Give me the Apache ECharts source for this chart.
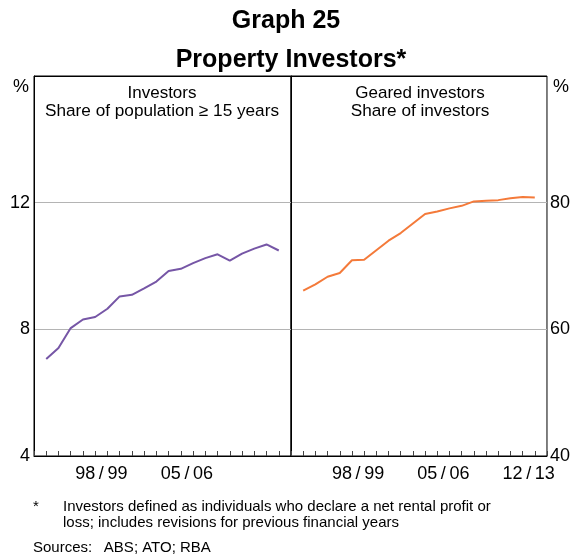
<!DOCTYPE html>
<html>
<head>
<meta charset="utf-8">
<script src="https://cdn.jsdelivr.net/npm/echarts@6/dist/echarts.min.js"></script>
<style>
html,body{margin:0;padding:0;background:#fff;}
#chart{width:573px;height:555px;}
</style>
</head>
<body>
<div id="chart"></div>
<script>
// Financial years (category bands on the x axis)
const years = ['93/94','94/95','95/96','96/97','97/98','98/99','99/00','00/01','01/02','02/03','03/04',
               '04/05','05/06','06/07','07/08','08/09','09/10','10/11','11/12','12/13','13/14'];
// Values at end of each financial year, starting with 93/94
const investorsShare = [7.06, 7.41, 8.04, 8.31, 8.39, 8.65, 9.04, 9.09, 9.29, 9.51,
                        9.84, 9.91, 10.09, 10.25, 10.37, 10.17, 10.39, 10.55, 10.68, 10.49];
const gearedShare = [66.1, 67.1, 68.3, 68.9, 70.9, 71.0, 72.5, 74.0, 75.2, 76.7,
                     78.2, 78.6, 79.1, 79.5, 80.2, 80.3, 80.4, 80.7, 80.9, 80.8];
const leftTickLabels = ['98/99','05/06'];
const rightTickLabels = ['98/99','05/06','12/13'];
const leftYTicks = [4, 8, 12];
const rightYTicks = [40, 60, 80];

const FONT = 'Liberation Sans, Arial, sans-serif';
const chart = echarts.init(document.getElementById('chart'), null, {renderer: 'canvas'});

function catAxis(grid, labels) {
  return {
    type: 'category', gridIndex: grid, data: years, boundaryGap: true,
    axisLine: {show: true, lineStyle: {color: '#000', width: 1}},
    axisTick: {show: true, inside: true, length: 5, interval: 0, lineStyle: {color: '#444'}},
    axisLabel: {
      interval: (i, v) => labels.includes(v),
      formatter: v => v.replace('/', '\u2009/\u2009'),
      color: '#000', fontSize: 18, fontFamily: FONT, margin: 9
    },
    splitLine: {show: false}
  };
}
function valXAxis(grid) {
  return {type: 'value', gridIndex: grid, min: 0, max: years.length, show: false};
}
function yAxis(grid, min, max, interval, ticks, pos) {
  return {
    type: 'value', gridIndex: grid, min: min, max: max, interval: interval, position: pos,
    axisLine: {show: true, lineStyle: {color: '#000', width: 1}},
    axisTick: {show: false},
    axisLabel: {
      formatter: v => ticks.includes(v) ? String(v) : '',
      color: '#000', fontSize: 18, fontFamily: FONT, margin: pos === 'left' ? 4 : 3
    },
    splitLine: {show: true, lineStyle: {color: ['#000', '#b4b4b4', '#b4b4b4', '#000'], width: 1}}
  };
}
function txt(x, y, s, size, weight, align) {
  return {type: 'text', x: x, y: y, style: {text: s, fill: '#000', font: (weight || 'normal') + ' ' + size + 'px ' + FONT,
    textAlign: align || 'center', textVerticalAlign: 'middle'}};
}

chart.setOption({
  animation: false,
  backgroundColor: '#fff',
  grid: [
    {left: 34, top: 76, width: 257, height: 380, show: true, borderColor: '#000', borderWidth: 1, containLabel: false},
    {left: 291, top: 76, width: 258, height: 380, show: true, borderColor: '#000', borderWidth: 1, containLabel: false}
  ],
  xAxis: [catAxis(0, leftTickLabels), catAxis(1, rightTickLabels), valXAxis(0), valXAxis(1)],
  yAxis: [yAxis(0, 4, 16, 4, leftYTicks, 'left'), yAxis(1, 40, 100, 20, rightYTicks, 'right')],
  series: [
    {type: 'line', xAxisIndex: 2, yAxisIndex: 0, showSymbol: false,
     data: investorsShare.map((v, i) => [i + 1, v]),
     lineStyle: {color: '#7656a6', width: 2}, itemStyle: {color: '#7656a6'}},
    {type: 'line', xAxisIndex: 3, yAxisIndex: 1, showSymbol: false,
     data: gearedShare.map((v, i) => [i + 1, v]),
     lineStyle: {color: '#f47a3a', width: 2}, itemStyle: {color: '#f47a3a'}}
  ],
  graphic: [
    txt(286, 21, 'Graph 25', 25, 'bold'),
    txt(291, 60, 'Property Investors*', 25, 'bold'),
    txt(21, 87, '%', 18),
    txt(561, 87, '%', 18),
    txt(162, 93, 'Investors', 17),
    txt(162, 111, 'Share of population \u2265 15 years', 17.2),
    txt(420, 93, 'Geared investors', 17),
    txt(420, 111, 'Share of investors', 17.2),
    txt(33, 507, '*', 15, 'normal', 'left'),
    txt(63, 507, 'Investors defined as individuals who declare a net rental profit or', 15, 'normal', 'left'),
    txt(63, 523, 'loss; includes revisions for previous financial years', 15, 'normal', 'left'),
    txt(33, 548, 'Sources:\u2002 ABS; ATO; RBA', 15, 'normal', 'left')
  ]
});
</script>
</body>
</html>
